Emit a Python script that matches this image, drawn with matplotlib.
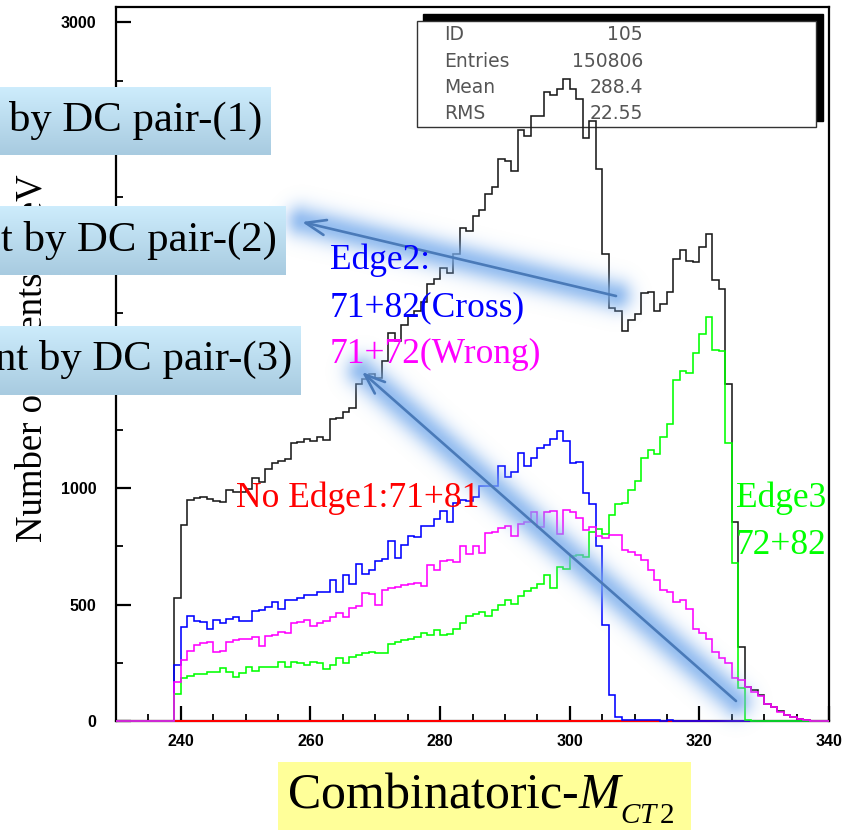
import numpy as np
import matplotlib
matplotlib.use('Agg')
import matplotlib.pyplot as plt
from matplotlib.patches import Rectangle, FancyArrowPatch
from matplotlib.ticker import MultipleLocator

plt.rcParams['mathtext.fontset'] = 'custom'
plt.rcParams['mathtext.rm'] = 'Liberation Serif'
plt.rcParams['mathtext.it'] = 'Liberation Serif:italic'

# ---------------- data (bins of 1 GeV, first filled bin = 239) ----------------
first_bin = 239
xmin, xmax = 230, 340

total = [530, 842, 950, 958, 962, 952, 946, 940, 990, 984, 982, 995, 1042, 1028, 1084, 1110,
         1116, 1124, 1192, 1200, 1210, 1204, 1218, 1208, 1295, 1300, 1328, 1346, 1445, 1468,
         1490, 1474, 1545, 1665, 1630, 1700, 1745, 1760, 1800, 1876, 1900, 1945, 1924, 2005,
         2119, 2106, 2169, 2195, 2264, 2295, 2415, 2405, 2362, 2536, 2512, 2596, 2596, 2700,
         2686, 2714, 2755, 2712, 2670, 2502, 2576, 2369, 2005, 1773, 1759, 1676, 1723, 1747,
         1836, 1841, 1762, 1790, 1843, 1983, 2022, 1976, 1973, 2037, 2090, 1893, 1856, 1447,
         854, 318, 144, 133, 111, 75, 62, 42, 27, 19, 8, 3]

cross = [240, 404, 453, 430, 426, 394, 433, 419, 440, 447, 430, 430, 471, 476, 490, 511,
         480, 519, 521, 529, 540, 543, 553, 553, 604, 552, 626, 587, 676, 633, 650, 686,
         697, 773, 702, 754, 794, 790, 836, 836, 869, 901, 854, 935, 951, 944, 960, 1007,
         1009, 1011, 1094, 1047, 1069, 1152, 1097, 1130, 1173, 1187, 1212, 1247, 1204, 1107,
         1111, 979, 930, 750, 411, 111, 18, 6, 4, 5, 6, 3, 4, 2, 5, 1,
         0, 0, 0, 0, 0, 0, 0, 0, 0, 0, 0, 0, 0, 0, 0, 0, 0, 0, 0, 0]

wrong = [169, 261, 301, 326, 336, 341, 297, 301, 340, 347, 351, 354, 359, 321, 364, 369,
         383, 376, 419, 426, 433, 407, 421, 430, 447, 464, 447, 486, 493, 551, 544, 497,
         561, 569, 576, 583, 587, 594, 580, 671, 647, 687, 693, 683, 750, 716, 750, 723,
         807, 811, 830, 836, 793, 847, 854, 897, 833, 897, 901, 801, 904, 899, 873, 822,
         833, 793, 787, 797, 797, 733, 726, 711, 690, 647, 604, 564, 554, 511, 519, 483,
         393, 376, 350, 297, 269, 247, 183, 176, 147, 126, 107, 73, 61, 40, 26, 18, 7, 3]

edge3 = [114, 183, 193, 200, 201, 211, 211, 226, 211, 187, 204, 230, 216, 230, 230, 230,
         254, 233, 254, 247, 240, 254, 247, 223, 240, 269, 251, 276, 283, 294, 297, 294,
         290, 330, 340, 347, 351, 361, 380, 369, 390, 369, 373, 397, 419, 450, 461, 469,
         450, 476, 497, 519, 504, 537, 559, 569, 590, 626, 569, 661, 654, 707, 711, 704,
         812, 826, 804, 883, 930, 937, 990, 1030, 1130, 1164, 1147, 1221, 1276, 1466, 1504,
         1493, 1579, 1662, 1736, 1593, 1590, 1193, 679, 140, 3,
         0, 0, 0, 0, 0, 0, 0, 0, 0]

noedge = [0] * 98

y_ticks = [0, 500, 1000, 1500, 2000, 2500, 3000]
x_ticks = [240, 260, 280, 300, 320, 340]

stats_names = ['ID', 'Entries', 'Mean', 'RMS']
stats_vals = ['105', '150806', '288.4', '22.55']

# ---------------- figure ----------------
W, H = 856, 830
fig = plt.figure(figsize=(W / 100, H / 100), dpi=100, facecolor='white')


def fx(p):
    return p / W


def fy(p):
    return 1 - p / H


ax = fig.add_axes([fx(116), fy(721), (829 - 116) / W, (721 - 7) / H], zorder=0)
ax.set_xlim(xmin, xmax)
ax.set_ylim(0, 3066)

n_left = first_bin - xmin
edges = np.arange(xmin, xmax + 1)


def full(vals):
    arr = [0] * n_left + list(vals)
    arr = arr + [0] * (len(edges) - 1 - len(arr))
    return np.array(arr, dtype=float)


lw = 1.15
ax.stairs(full(total), edges, baseline=None, color='#1a1a1a', lw=lw, zorder=2.6, clip_on=False)
ax.stairs(full(noedge), edges, baseline=None, color='#ff0000', lw=lw + 0.3, zorder=2.7, clip_on=False)
ax.stairs(full(cross), edges, baseline=None, color='#0000ff', lw=lw, zorder=2.8, clip_on=False)
ax.stairs(full(edge3), edges, baseline=None, color='#00ff00', lw=lw, zorder=2.9, clip_on=False)
ax.stairs(full(wrong), edges, baseline=None, color='#ff00ff', lw=lw, zorder=3.0, clip_on=False)

for s in ax.spines.values():
    s.set_linewidth(1.6)
ax.set_xticks(x_ticks)
ax.set_yticks(y_ticks)
ax.xaxis.set_minor_locator(MultipleLocator(5))
ax.yaxis.set_minor_locator(MultipleLocator(250))
ax.tick_params(which='major', direction='in', length=10.5, width=1.6, top=False, right=False)
ax.tick_params(which='minor', direction='in', length=5.3, width=1.3, top=False, right=False)
ax.tick_params(axis='x', which='major', pad=9)
ax.tick_params(axis='y', which='major', pad=14)
for lab in ax.get_xticklabels() + ax.get_yticklabels():
    lab.set_fontfamily('Liberation Sans')
    lab.set_fontweight('bold')
    lab.set_fontsize(11.5)

# stat box with shadow
ax.add_patch(Rectangle((fx(423), fy(121)), fx(823) - fx(423), fy(14) - fy(121),
                       transform=fig.transFigure, facecolor='black', edgecolor='black',
                       clip_on=False, zorder=1))
ax.add_patch(Rectangle((fx(417), fy(127)), fx(816) - fx(417), fy(21) - fy(127),
                       transform=fig.transFigure, facecolor='white', edgecolor='#333333',
                       lw=1.0, clip_on=False, zorder=1.1))
for i, (nm, vv) in enumerate(zip(stats_names, stats_vals)):
    yy = 35 + i * 26.3
    ax.text(fx(444), fy(yy), nm, transform=fig.transFigure, ha='left', va='center',
            fontsize=13.5, family='DejaVu Sans', color='#555555', zorder=1.2)
    ax.text(fx(643), fy(yy), vv, transform=fig.transFigure, ha='right', va='center',
            fontsize=13.5, family='DejaVu Sans', color='#555555', zorder=1.2)

# y label
fig.text(fx(32), fy(358), 'Number of Events / GeV', rotation=90, ha='center', va='center',
         fontsize=26.5, family='Liberation Serif', color='black')

# ---------------- arrows with soft glow ----------------
arrows = [((616, 296), (302, 222)), ((736, 701), (362, 372))]
yy_g, xx_g = np.mgrid[0:H, 0:W] + 0.5
glow_a = np.zeros((H, W))
for (x0, y0), (x1, y1) in arrows:
    dx, dy = x1 - x0, y1 - y0
    t = np.clip(((xx_g - x0) * dx + (yy_g - y0) * dy) / (dx * dx + dy * dy), 0, 1)
    d = np.hypot(xx_g - (x0 + t * dx), yy_g - (y0 + t * dy))
    glow_a = np.maximum(glow_a, 0.78 * np.exp(-(d / 16.0) ** 2))
glow = np.zeros((H, W, 4))
glow[..., 0] = 120 / 255
glow[..., 1] = 172 / 255
glow[..., 2] = 236 / 255
glow[..., 3] = glow_a
gax = fig.add_axes([0, 0, 1, 1], zorder=1)
gax.imshow(glow, extent=(0, W, H, 0), interpolation='bilinear', aspect='auto')
gax.set_xlim(0, W)
gax.set_ylim(H, 0)
gax.set_axis_off()
gax.patch.set_alpha(0)

for (x0, y0), (x1, y1) in arrows:
    fig.add_artist(FancyArrowPatch((fx(x0), fy(y0)), (fx(x1), fy(y1)),
                                   transform=fig.transFigure,
                                   arrowstyle='->,head_length=1.45,head_width=0.55',
                                   mutation_scale=10, color='#4a7ab8', lw=1.9,
                                   shrinkA=0, shrinkB=0, zorder=3))

# annotation texts
ann_kw = dict(fontsize=25.5, family='Liberation Serif', ha='left', va='baseline', zorder=4)
fig.text(fx(330), fy(269), 'Edge2:', color='#0000ff', **ann_kw)
fig.text(fx(330), fy(316), '71+82(Cross)', color='#0000ff', **ann_kw)
fig.text(fx(330), fy(363), '71+72(Wrong)', color='#ff00ff', **ann_kw)
fig.text(fx(236), fy(507), 'No Edge1:71+81', color='#ff0000', **ann_kw)
fig.text(fx(736), fy(507), 'Edge3', color='#00ff00', **ann_kw)
fig.text(fx(736), fy(554), '72+82', color='#00ff00', **ann_kw)

# ---------------- blue gradient boxes ----------------
grad = np.linspace(0, 1, 64).reshape(-1, 1)
top_c = np.array([205, 236, 252]) / 255
bot_c = np.array([168, 203, 224]) / 255
img = top_c[None, None, :] * (1 - grad[:, :, None]) + bot_c[None, None, :] * grad[:, :, None]

boxes = [((0, 87, 271, 155), 'by DC pair-(1)', 262, 131),
         ((0, 206, 286, 275), 't by DC pair-(2)', 277, 251),
         ((0, 326, 301, 395), 'nt by DC pair-(3)', 292, 370)]
for (bx0, by0, bx1, by1), txt, xe, yb in boxes:
    bax = fig.add_axes([fx(bx0), fy(by1), (bx1 - bx0) / W, (by1 - by0) / H], zorder=5)
    bax.imshow(img, aspect='auto', extent=[0, 1, 0, 1], interpolation='bilinear')
    bax.set_axis_off()
    fig.text(fx(xe), fy(yb), txt, ha='right', va='baseline', fontsize=30.8,
             family='Liberation Serif', color='black', zorder=6)

# ---------------- x label on yellow box ----------------
fig.add_artist(Rectangle((fx(278), fy(830)), (691 - 278) / W, (830 - 762) / H,
                         transform=fig.transFigure, facecolor='#ffff99', edgecolor='none',
                         zorder=5))
fig.text(fx(287), fy(807), r'Combinatoric-$M$', ha='left', va='baseline',
         fontsize=36, family='Liberation Serif', color='black', zorder=6)
fig.text(fx(620), fy(823), r'$CT\,$2', ha='left', va='baseline',
         fontsize=21, family='Liberation Serif', color='black', zorder=6)

fig.savefig('out.png', dpi=100, facecolor='white')
